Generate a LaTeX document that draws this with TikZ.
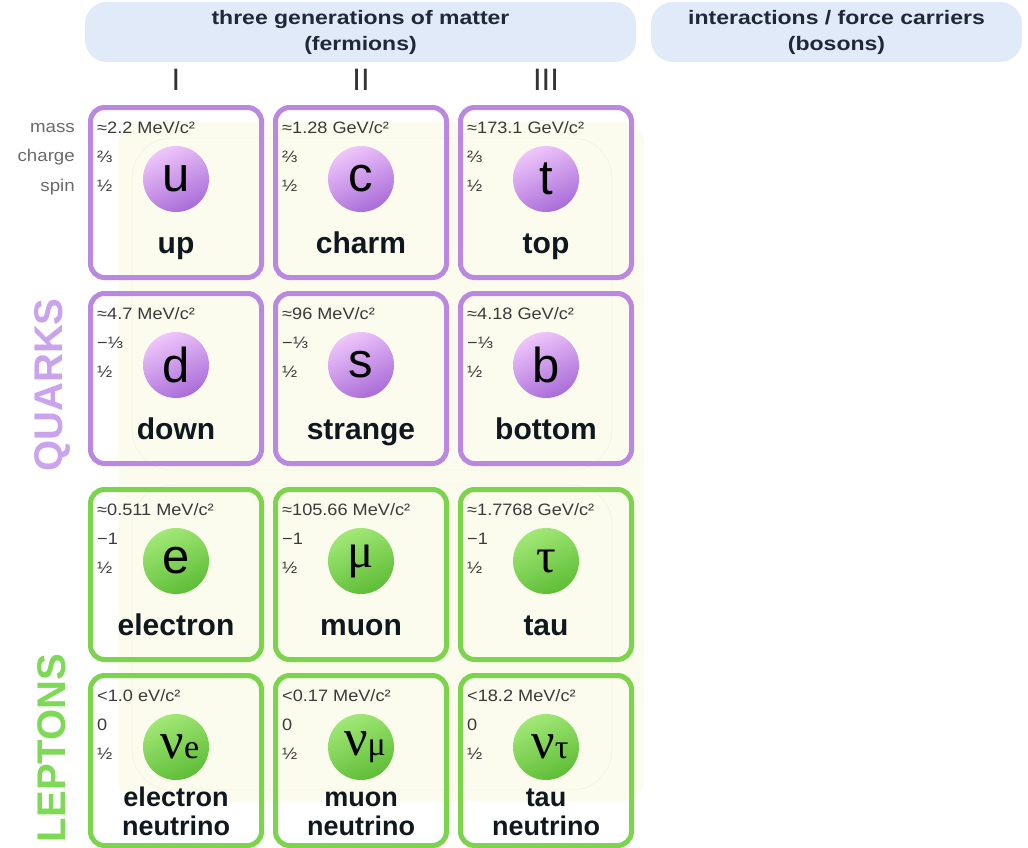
\documentclass[tikz,border=0pt]{standalone}
\usepackage{fontspec}
\setmainfont{Liberation Sans}
\newfontfamily\seriffam{Liberation Serif}
\newfontfamily\infofont[FakeStretch=1.1]{Liberation Sans}
\newfontfamily\hdrfont[FakeStretch=1.18]{Liberation Sans}
\definecolor{hdrblue}{HTML}{E0EAF9}
\definecolor{hdrtext}{HTML}{1E2838}
\definecolor{qborder}{HTML}{BA88E0}
\definecolor{lborder}{HTML}{7BD44C}
\definecolor{qlight}{HTML}{EFC6FB}
\definecolor{qdark}{HTML}{A96CD8}
\definecolor{llight}{HTML}{A2E877}
\definecolor{ldark}{HTML}{5EBD36}
\definecolor{qword}{HTML}{C9A3EE}
\definecolor{lword}{HTML}{7DD956}
\definecolor{infogray}{HTML}{3A3A3A}
\definecolor{labgray}{HTML}{6A6A6A}
\definecolor{namecol}{HTML}{10181F}
\definecolor{bgcream}{HTML}{FBFBEE}
\definecolor{bgline}{HTML}{EEEEDE}
\tikzset{
  headerbox/.style={fill=hdrblue, rounded corners=22pt, align=center, inner sep=0pt,
     font=\hdrfont\fontsize{19.5}{26}\selectfont\bfseries, text=hdrtext},
  qbox/.style={draw=qborder, line width=5pt, rounded corners=14pt, minimum width=171pt, minimum height=170pt, inner sep=0pt},
  lbox/.style={draw=lborder, line width=5pt, rounded corners=14pt, minimum width=171pt, minimum height=170pt, inner sep=0pt},
  qball/.style={circle, minimum size=66pt, inner sep=0pt, top color=qlight, bottom color=qdark, shading angle=25},
  lball/.style={circle, minimum size=66pt, inner sep=0pt, top color=llight, bottom color=ldark, shading angle=25},
  infotext/.style={font=\infofont\fontsize{16.5}{16.5}\selectfont, text=infogray, inner sep=0pt, anchor=west},
  sidelabel/.style={font=\infofont\fontsize{17}{17}\selectfont, text=labgray, inner sep=0pt, anchor=east},
  symtext/.style={font=\fontsize{49}{49}\selectfont, text=black},
  nametext/.style={font=\fontsize{30}{30}\selectfont\bfseries, text=namecol, inner sep=0pt, anchor=base},
  nutext/.style={font=\fontsize{27}{27}\selectfont\bfseries, text=namecol, inner sep=0pt, anchor=base},
  numeral/.style={font=\fontsize{31}{31}\selectfont, text=black!80, inner sep=0pt},
  bigword/.style={font=\fontsize{40}{40}\selectfont\bfseries, rotate=90, inner sep=0pt},
}
% #1 id, #2 centre x, #3 top y, #4 kind (q/l), #5 mass, #6 charge, #7 spin, #8 symbol
\newcommand\particle[8]{%
  \node[#4box] (#1) at (#2, #3+87.5) {};
  \node[infotext] (#1mass) at (#2-79, #3+23) {#5};
  \node[infotext] (#1charge) at (#2-79, #3+52) {#6};
  \node[infotext] (#1spin) at (#2-79, #3+81) {#7};
  \node[#4ball, symtext] (#1sym) at (#2, #3+74) {#8};
}
\begin{document}
\begin{tikzpicture}[x=1pt, y=-1pt]
\useasboundingbox (0,0) rectangle (1028,847);
\fill[white] (0,0) rectangle (1028,847);
% faint background
\fill[bgcream, rounded corners=22pt] (118,122) rectangle (644,802);
\draw[bgline, rounded corners=40pt] (132,138) rectangle (612,470);
\draw[bgline, rounded corners=40pt] (132,485) rectangle (612,790);
% headers
\node[headerbox, minimum width=551pt, minimum height=60pt] (hferm) at (360.5,32) {three generations of matter\\(fermions)};
\node[headerbox, minimum width=371pt, minimum height=60pt] (hbos) at (836.5,32) {interactions / force carriers\\(bosons)};
% generation numerals
\node[numeral] (g1) at (176,80) {I};
\node[numeral] (g2) at (361,80) {II};
\node[numeral] (g3) at (546,80) {III};
% side labels
\node[sidelabel] (lmass) at (75,128) {mass};
\node[sidelabel] (lcharge) at (75,157) {charge};
\node[sidelabel] (lspin) at (75,187) {spin};
\node[bigword, text=qword] (wq) at (52,385) {QUARKS};
\node[bigword, text=lword] (wl) at (52,748) {LEPTONS};
% quarks
\particle{up}{176}{105}{q}{≈2.2 MeV/c²}{⅔}{½}{u}
\particle{ch}{361}{105}{q}{≈1.28 GeV/c²}{⅔}{½}{c}
\particle{tp}{546}{105}{q}{≈173.1 GeV/c²}{⅔}{½}{t}
\particle{dn}{176}{291}{q}{≈4.7 MeV/c²}{−⅓}{½}{d}
\particle{st}{361}{291}{q}{≈96 MeV/c²}{−⅓}{½}{s}
\particle{bt}{546}{291}{q}{≈4.18 GeV/c²}{−⅓}{½}{b}
% leptons
\particle{el}{176}{487}{l}{≈0.511 MeV/c²}{−1}{½}{e}
\particle{mu}{361}{487}{l}{≈105.66 MeV/c²}{−1}{½}{{\seriffam μ}}
\particle{ta}{546}{487}{l}{≈1.7768 GeV/c²}{−1}{½}{{\seriffam τ}}
\particle{ne}{176}{673}{l}{<1.0 eV/c²}{0}{½}{\hspace*{8pt}{\seriffam\fontsize{52}{52}\selectfont ν\fontsize{34}{34}\selectfont e}}
\particle{nm}{361}{673}{l}{<0.17 MeV/c²}{0}{½}{\hspace*{8pt}{\seriffam\fontsize{52}{52}\selectfont ν\fontsize{34}{34}\selectfont μ}}
\particle{nt}{546}{673}{l}{<18.2 MeV/c²}{0}{½}{\hspace*{8pt}{\seriffam\fontsize{52}{52}\selectfont ν\fontsize{34}{34}\selectfont τ}}
% names
\node[nametext] (upname) at (176,253) {up};
\node[nametext] (chname) at (361,253) {charm};
\node[nametext] (tpname) at (546,253) {top};
\node[nametext] (dnname) at (176,439) {down};
\node[nametext] (stname) at (361,439) {strange};
\node[nametext] (btname) at (546,439) {bottom};
\node[nametext] (elname) at (176,635) {electron};
\node[nametext] (muname) at (361,635) {muon};
\node[nametext] (taname) at (546,635) {tau};
\node[nutext] (nename1) at (176,806) {electron};
\node[nutext] (nename2) at (176,835) {neutrino};
\node[nutext] (nmname1) at (361,806) {muon};
\node[nutext] (nmname2) at (361,835) {neutrino};
\node[nutext] (ntname1) at (546,806) {tau};
\node[nutext] (ntname2) at (546,835) {neutrino};
\end{tikzpicture}
\end{document}
